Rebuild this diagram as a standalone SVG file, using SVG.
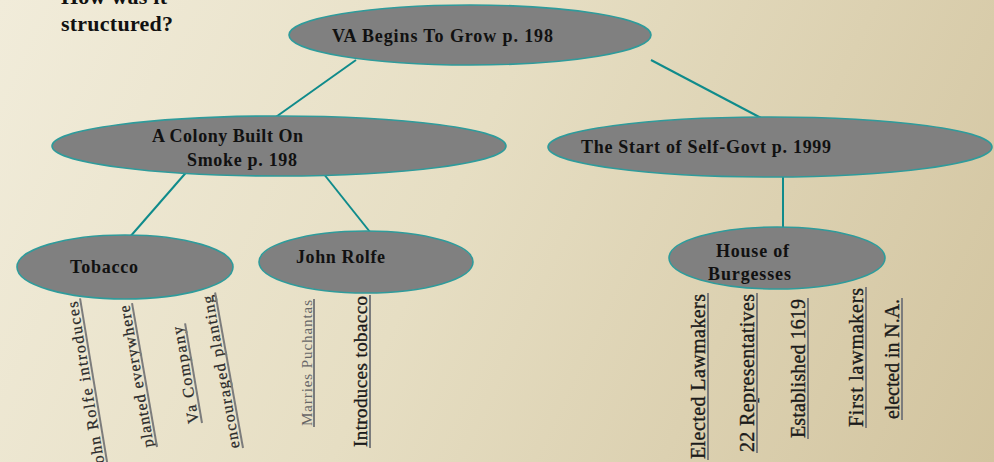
<svg xmlns="http://www.w3.org/2000/svg" width="994" height="462" viewBox="0 0 994 462">
<defs>
<linearGradient id="bg" x1="0" y1="0" x2="994" y2="462" gradientUnits="userSpaceOnUse">
<stop offset="0" stop-color="#f1ecda"/>
<stop offset="0.45" stop-color="#e6dec3"/>
<stop offset="1" stop-color="#d2c49f"/>
</linearGradient>
<style>
.node ellipse{fill:#808080;stroke:#2f9b9b;stroke-width:1.6}
.lbl{font-family:"Liberation Serif","Times New Roman",serif;font-weight:bold;font-size:18px;fill:#111}
.title{font-family:"Liberation Serif","Times New Roman",serif;font-weight:bold;font-size:22px;fill:#111}
.conn line{stroke:#0f8b8b;stroke-width:2}
.note{font-family:"Liberation Serif","Times New Roman",serif;fill:#2a2a2a;stroke:#2a2a2a;stroke-width:0.25}
.dark{fill:#1a1a1a;stroke:#1a1a1a;stroke-width:0.35}
.light{fill:#666;stroke:none}
.ul{stroke:#7c7c7c;stroke-width:2}
</style>
</defs>
<rect x="0" y="0" width="994" height="462" fill="url(#bg)"/>
<g id="title">
<text class="title" x="61" y="4" textLength="106" lengthAdjust="spacing">How was it</text>
<text class="title" x="61" y="31" textLength="112" lengthAdjust="spacing">structured?</text>
</g>
<g id="connectors" class="conn">
<line x1="356" y1="60" x2="273" y2="119"/>
<line x1="651" y1="60" x2="763" y2="119"/>
<line x1="190" y1="168" x2="129" y2="238"/>
<line x1="323" y1="173" x2="370" y2="232"/>
<line x1="783" y1="177" x2="783" y2="228"/>
</g>
<g id="n-va" class="node">
<ellipse cx="470" cy="35" rx="181" ry="30"/>
<text class="lbl" x="332" y="42" textLength="221" lengthAdjust="spacing">VA Begins To Grow p. 198</text>
</g>
<g id="n-colony" class="node">
<ellipse cx="279" cy="146" rx="227" ry="30"/>
<text class="lbl" x="152" y="142" textLength="151" lengthAdjust="spacing">A Colony Built On</text>
<text class="lbl" x="187" y="166" textLength="110" lengthAdjust="spacing">Smoke p. 198</text>
</g>
<g id="n-selfgovt" class="node">
<ellipse cx="770" cy="147" rx="222" ry="30"/>
<text class="lbl" x="581" y="153" textLength="250" lengthAdjust="spacing">The Start of Self-Govt p. 1999</text>
</g>
<g id="n-tobacco" class="node">
<ellipse cx="125" cy="267" rx="108" ry="32"/>
<text class="lbl" x="70" y="273" textLength="68" lengthAdjust="spacing">Tobacco</text>
</g>
<g id="n-rolfe" class="node">
<ellipse cx="366" cy="262" rx="107" ry="31"/>
<text class="lbl" x="296" y="263" textLength="89" lengthAdjust="spacing">John Rolfe</text>
</g>
<g id="n-house" class="node">
<ellipse cx="777" cy="258" rx="108" ry="31"/>
<text class="lbl" x="716" y="257" textLength="73" lengthAdjust="spacing">House of</text>
<text class="lbl" x="708" y="280" textLength="83" lengthAdjust="spacing">Burgesses</text>
</g>
<g id="notes-tobacco">
<g transform="translate(108.7 472) rotate(-99.37)">
<text class="note" font-size="16" x="2" y="-3" textLength="172" lengthAdjust="spacing">John Rolfe introduces</text>
<line class="ul" x1="0" y1="0" x2="176" y2="0"/>
</g>
<g transform="translate(157 447) rotate(-99.85)">
<text class="note" font-size="16" x="1" y="-3" textLength="144" lengthAdjust="spacing">planted everywhere</text>
<line class="ul" x1="0" y1="0" x2="146" y2="0"/>
</g>
<g transform="translate(202 423) rotate(-99.65)">
<text class="note" font-size="16" x="1" y="-3" textLength="98" lengthAdjust="spacing">Va Company</text>
<line class="ul" x1="0" y1="0" x2="101" y2="0"/>
</g>
<g transform="translate(243 448) rotate(-100.18)">
<text class="note" font-size="16" x="1" y="-3" textLength="155" lengthAdjust="spacing">encouraged planting</text>
<line class="ul" x1="0" y1="0" x2="158" y2="0"/>
</g>
</g>
<g id="notes-rolfe">
<g transform="translate(314 427) rotate(-90)">
<text class="note light" font-size="15" x="1" y="-2" textLength="126" lengthAdjust="spacing">Marries Puchantas</text>
<line class="ul" x1="0" y1="0" x2="128" y2="0"/>
</g>
<g transform="translate(370 448) rotate(-90)">
<text class="note dark" font-size="19" x="1" y="-3" textLength="151" lengthAdjust="spacing">Introduces tobacco</text>
<line class="ul" x1="0" y1="0" x2="153" y2="0"/>
</g>
</g>
<g id="notes-house">
<g transform="translate(708 460) rotate(-90)">
<text class="note dark" font-size="20" x="1" y="-3" textLength="165" lengthAdjust="spacing">Elected Lawmakers</text>
<line class="ul" x1="0" y1="0" x2="167" y2="0"/>
</g>
<g transform="translate(757 453) rotate(-90)">
<text class="note dark" font-size="20" x="1" y="-3" textLength="158" lengthAdjust="spacing">22 Representatives</text>
<line class="ul" x1="0" y1="0" x2="160" y2="0"/>
</g>
<g transform="translate(808 439) rotate(-90)">
<text class="note dark" font-size="20" x="1" y="-3" textLength="139" lengthAdjust="spacing">Established 1619</text>
<line class="ul" x1="0" y1="0" x2="141" y2="0"/>
</g>
<g transform="translate(866 428) rotate(-90)">
<text class="note dark" font-size="20" x="1" y="-3" textLength="139" lengthAdjust="spacing">First lawmakers</text>
<line class="ul" x1="0" y1="0" x2="141" y2="0"/>
</g>
<g transform="translate(902 420) rotate(-90)">
<text class="note dark" font-size="20" x="1" y="-3" textLength="120" lengthAdjust="spacing">elected in N.A.</text>
<line class="ul" x1="0" y1="0" x2="122" y2="0"/>
</g>
</g>
</svg>
